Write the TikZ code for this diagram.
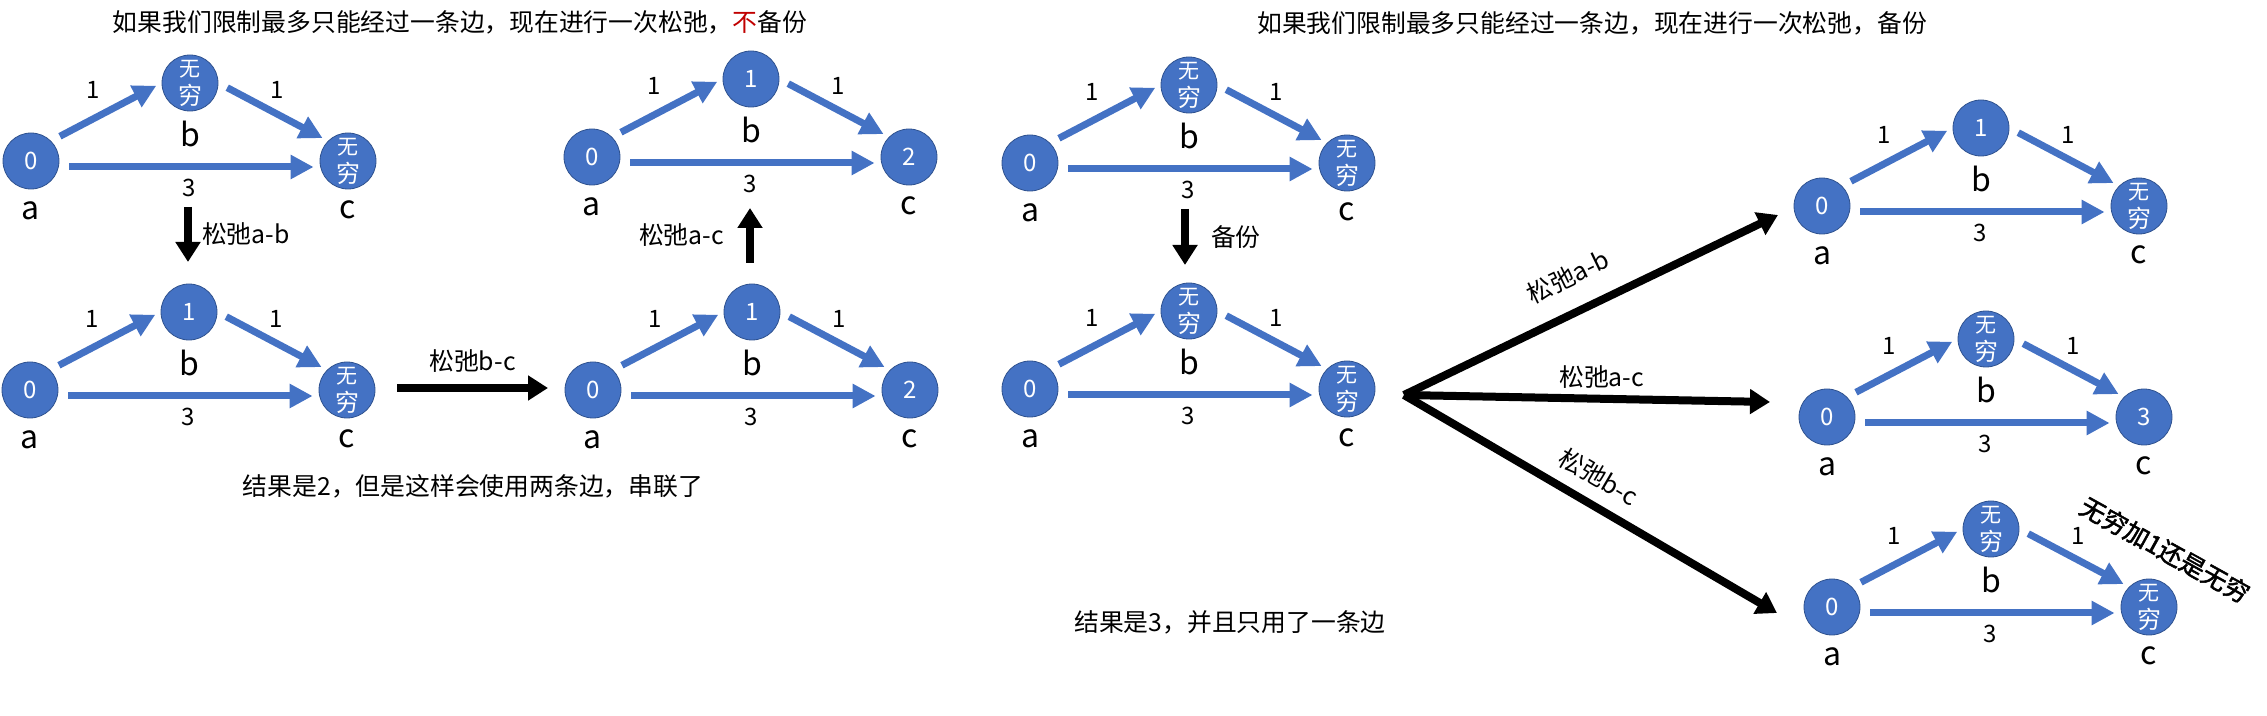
\documentclass[tikz,border=0pt]{standalone}
\usepackage{fontspec}
\setmainfont{Noto Sans CJK SC}
\newfontfamily\heavycjk[FakeBold=2]{Noto Sans CJK SC}
\usetikzlibrary{arrows.meta,calc,positioning}

\definecolor{nodeblue}{HTML}{4472C4}
\definecolor{rimblue}{HTML}{2F528F}
\definecolor{notred}{HTML}{C00000}

\tikzset{
  vertex/.style={circle, fill=nodeblue, draw=rimblue, line width=0.4pt, minimum size=28pt,
    inner sep=0pt, text=white, align=center, font=\fontsize{12}{14}\selectfont},
  letter/.style={font=\fontsize{16}{18}\selectfont, inner sep=0pt},
  weight/.style={font=\fontsize{12}{14}\selectfont, inner sep=0pt},
  edge/.style={draw=nodeblue, line width=3.5pt, -{Triangle[length=11.5pt,width=11.5pt]},
    shorten <=5pt, shorten >=3pt},
  move/.style={draw=black, line width=4pt, -{Triangle[length=10pt,width=12pt]}},
  caption/.style={font=\fontsize{12.4}{15}\selectfont, inner sep=2pt},
}

% two-line "infinity" inside a vertex
\newcommand{\wq}{\fontsize{10.5}{14}\selectfont 无\\穷}

% one small graph a, b, c: prefix, position of a, values of a, b, c
\newcommand{\tripgraph}[5]{%
  \node[vertex] (#1a) at (#2) {#3};
  \node[vertex] (#1b) at ($(#1a)+(159,-78)$) {#4};
  \node[vertex] (#1c) at ($(#1a)+(317,0)$) {#5};
  \node[letter] (#1la) at ($(#1a)+(0,50)$) {a};
  \node[letter] (#1lb) at ($(#1b)+(0,51)$) {b};
  \node[letter] (#1lc) at ($(#1c)+(0,49)$) {c};
  \node[weight] (#1wab) at ($(#1a)+(62,-71)$) {1};
  \node[weight] (#1wbc) at ($(#1b)+(87,7)$) {1};
  \node[weight] (#1wac) at ($(#1a)+(158,27)$) {3};
  \draw[edge] (#1a.45) -- (#1b.west);
  \draw[edge] (#1b.east) -- (#1c.135);
  \draw[edge] ([yshift=-3pt]#1a.east) -- ([yshift=-3pt]#1c.west);
}

\begin{document}
\begin{tikzpicture}[x=0.5pt,y=-0.5pt]
    \useasboundingbox (0,0) rectangle (2267,716);

    % titles
    \node[caption] (title1) at (460,22) {如果我们限制最多只能经过一条边，现在进行一次松弛，\textcolor{notred}{不}备份};
    \node[caption] (title2) at (1592,23) {如果我们限制最多只能经过一条边，现在进行一次松弛，备份};

    % without backup
    \tripgraph{p}{31,161}{0}{\wq}{\wq}
    \tripgraph{q}{592,157}{0}{1}{2}
    \tripgraph{r}{30,390}{0}{1}{\wq}
    \tripgraph{s}{593,390}{0}{1}{2}

    \coordinate (dn1) at (188,207);
    \coordinate (dn2) at (188,262);
    \draw[move] (dn1) -- node[caption, right=3pt] {松弛a-b} (dn2);
    \coordinate (rt1) at (397,388);
    \coordinate (rt2) at (548,388);
    \draw[move] (rt1) -- node[caption, above=4pt] {松弛b-c} (rt2);
    \coordinate (up1) at (750,263);
    \coordinate (up2) at (750,208);
    \draw[move] (up1) -- node[caption, left=9pt] {松弛a-c} (up2);

    \node[caption] (result1) at (473,486) {结果是2，但是这样会使用两条边，串联了};

    % with backup
    \tripgraph{u}{1030,163}{0}{\wq}{\wq}
    \tripgraph{v}{1030,389}{0}{\wq}{\wq}
    \tripgraph{w}{1822,206}{0}{1}{\wq}
    \tripgraph{x}{1827,417}{0}{\wq}{3}
    \tripgraph{y}{1832,607}{0}{\wq}{\wq}

    \coordinate (bk1) at (1185,209);
    \coordinate (bk2) at (1185,265);
    \draw[move] (bk1) -- node[caption, right=9pt] {备份} (bk2);

    \coordinate (fan) at (1404,395);
    \coordinate (tipab) at (1778,215);
    \coordinate (tipac) at (1770,402);
    \coordinate (tipbc) at (1777,613);
    \draw[move] (fan) -- node[caption, sloped, above=8pt, pos=0.48] {松弛a-b} (tipab);
    \draw[move] (fan) -- node[caption, above=1pt, pos=0.54] {松弛a-c} (tipac);
    \draw[move] (fan) -- node[caption, sloped, above=4pt, pos=0.485] {松弛b-c} (tipbc);

    \node[caption] (result2) at (1230,622) {结果是3，并且只用了一条边};
    \node[caption, rotate=-29, font=\heavycjk\fontsize{12.5}{15}\selectfont] (note) at (2165,550) {无穷加1还是无穷};

\end{tikzpicture}
\end{document}
